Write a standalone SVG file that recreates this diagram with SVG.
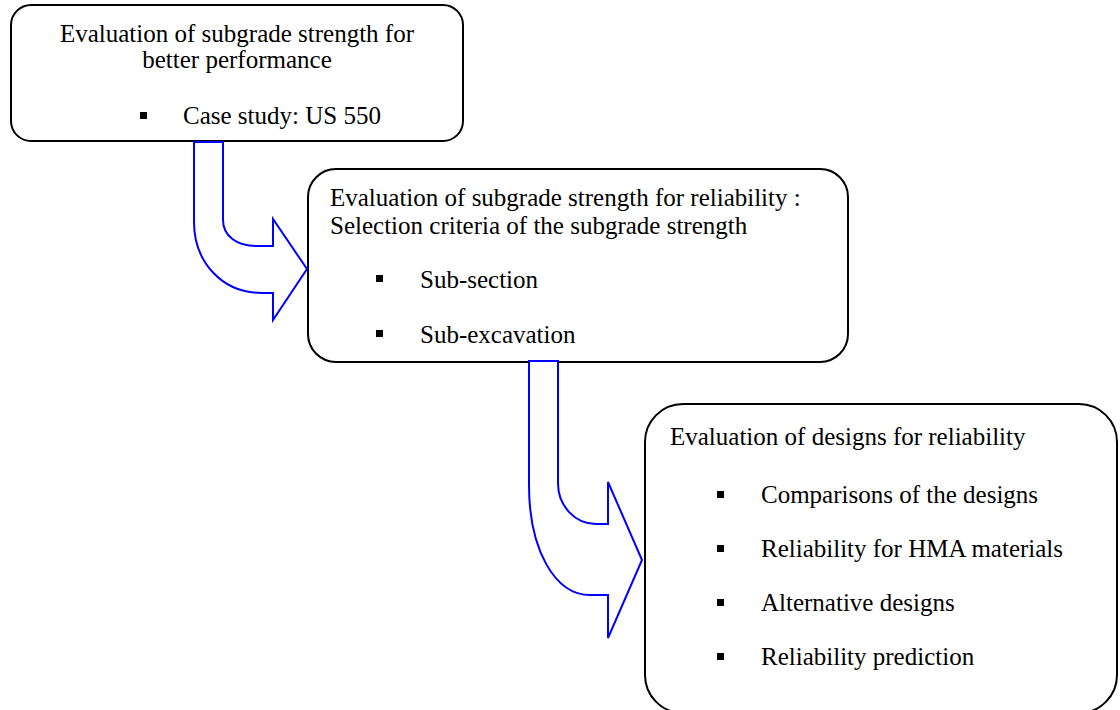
<svg xmlns="http://www.w3.org/2000/svg" width="1120" height="710" viewBox="0 0 1120 710">
<style>
.box{fill:#fff;stroke:#000;stroke-width:2}
.arr{fill:#fff;stroke:#0000ff;stroke-width:2;stroke-linejoin:miter}
text{font-family:"Liberation Serif","Times New Roman",serif;font-size:25px;fill:#000}
.blt{fill:#000}
</style>
<rect width="1120" height="710" fill="#fff"/>
<g id="node1">
<rect class="box" x="11" y="5" width="452" height="136" rx="20" ry="20"/>
<text x="237" y="42" text-anchor="middle">Evaluation of subgrade strength for</text>
<text x="237" y="68" text-anchor="middle">better performance</text>
<rect class="blt" x="140" y="112" width="7" height="7"/>
<text x="183" y="124">Case study: US 550</text>
</g>
<g id="node2">
<rect class="box" x="308" y="169" width="540" height="193" rx="28" ry="28"/>
<text x="330" y="206">Evaluation of subgrade strength for reliability :</text>
<text x="330" y="234">Selection criteria of the subgrade strength</text>
<rect class="blt" x="376" y="275" width="7" height="7"/>
<text x="420" y="288">Sub-section</text>
<rect class="blt" x="376" y="330" width="7" height="7"/>
<text x="420" y="343">Sub-excavation</text>
</g>
<g id="node3">
<rect class="box" x="645" y="404" width="472" height="309" rx="38" ry="38"/>
<text x="670" y="445">Evaluation of designs for reliability</text>
<rect class="blt" x="717" y="491" width="7" height="7"/>
<text x="761" y="503">Comparisons of the designs</text>
<rect class="blt" x="717" y="545" width="7" height="7"/>
<text x="761" y="557">Reliability for HMA materials</text>
<rect class="blt" x="717" y="599" width="7" height="7"/>
<text x="761" y="611">Alternative designs</text>
<rect class="blt" x="717" y="653" width="7" height="7"/>
<text x="761" y="665">Reliability prediction</text>
</g>
<g id="connectors">
<path class="arr" d="M194,142 H223 V220 C223,236 237,246 256,246 H273 V219 L307,269 L273,320 V293 H262 C222,293 194,262 194,222 Z"/>
<path class="arr" d="M529,361 H558 V483 C558,506 575,524 596,524 H608 V482 L642,560 L608,638 V595 H590 C555,595 529,550 529,485 Z"/>
</g>
</svg>
